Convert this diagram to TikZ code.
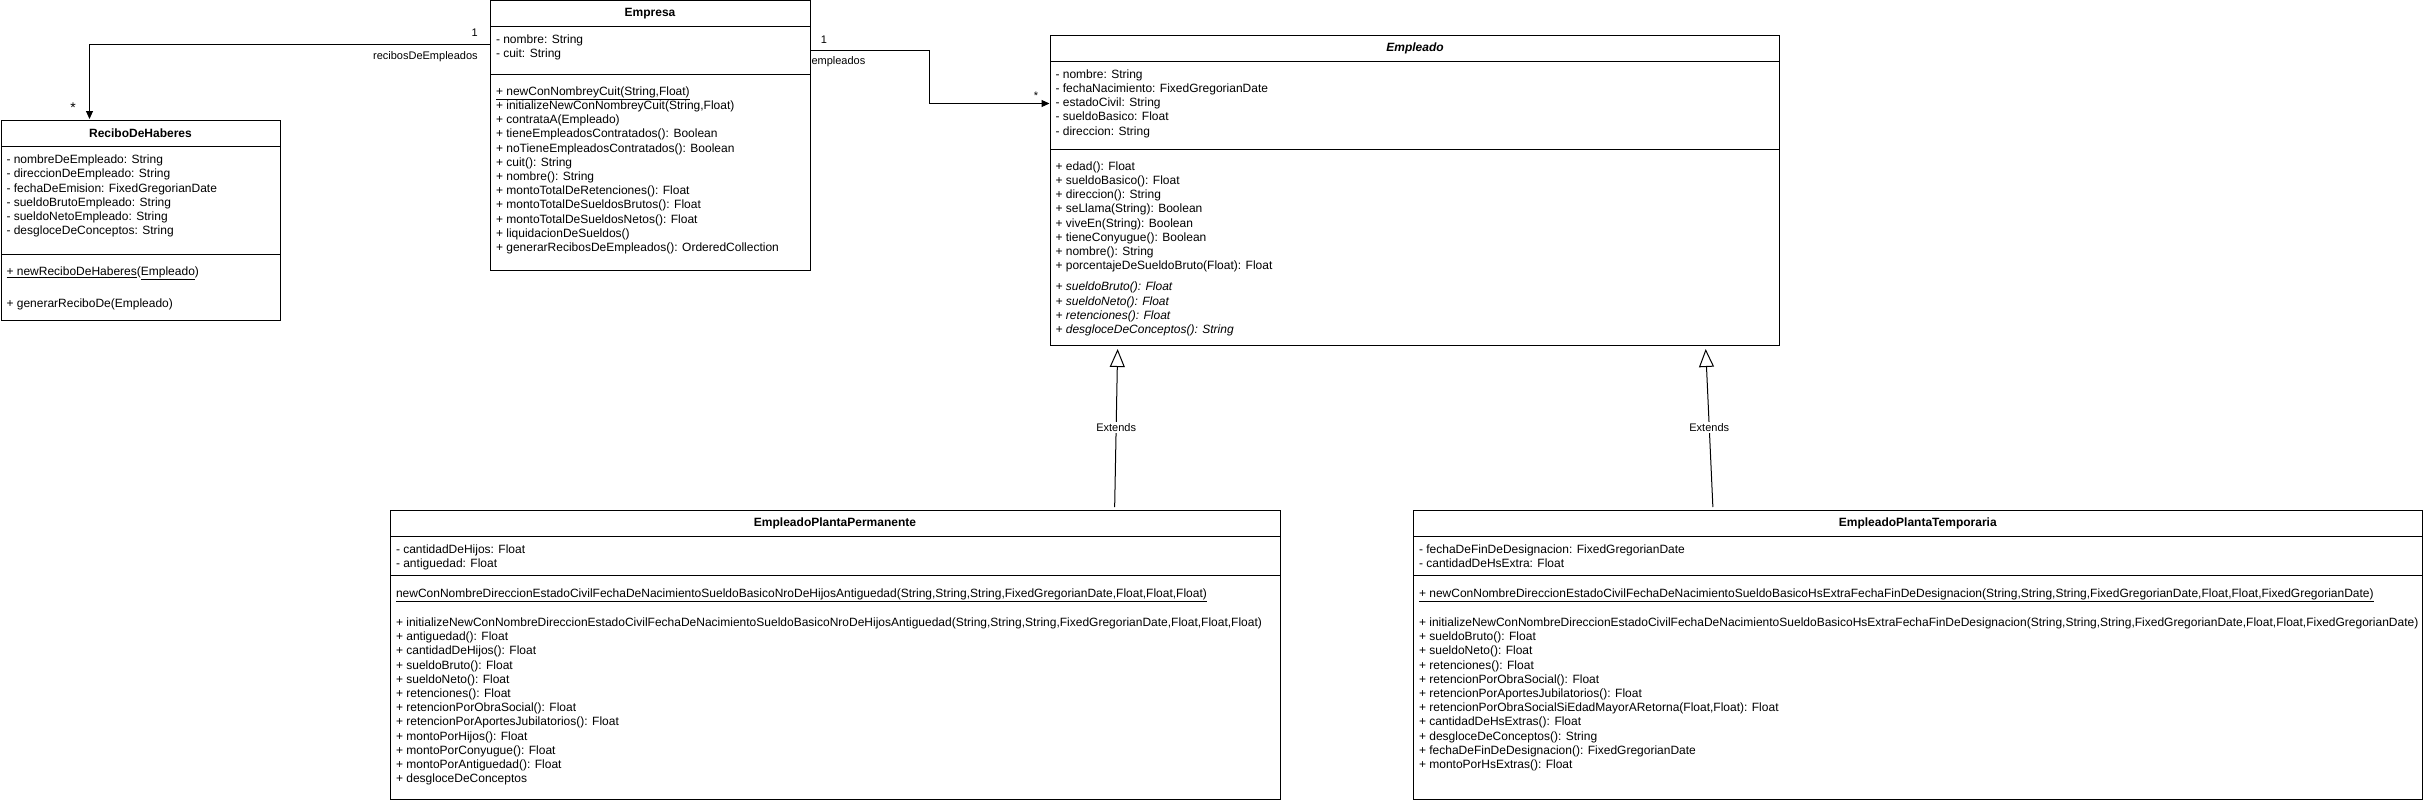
\documentclass[tikz,border=0pt]{standalone}
\usepackage{fontspec}
\setmainfont{Liberation Sans}
\usetikzlibrary{arrows.meta,positioning}

\begin{document}
\begin{tikzpicture}[x=1pt,y=-1pt,
  every node/.style={inner sep=0pt,outer sep=0pt,font=\fontsize{12}{14.2}\selectfont},
  compart/.style={draw,line width=1pt,anchor=north west,minimum width=#1},
  head/.style={compart=#1,minimum height=26pt,font=\fontsize{12}{14.2}\selectfont\bfseries},
  members/.style={align=left},
  assoc/.style={-{Triangle[length=8pt,width=7pt]},line width=1pt,shorten >=1pt},
  extends/.style={-{Triangle[open,length=18pt,width=15pt]},line width=1pt,shorten >=4pt,shorten <=3pt},
  mult/.style={font=\fontsize{11}{13}\selectfont},
  role/.style={font=\fontsize{11}{13}\selectfont}]

    \useasboundingbox (0,0) rectangle (2424,804);

    \node[head=279pt] (recT) at (1,120) {ReciboDeHaberes};
    \node[compart=279pt,minimum height=108pt,below=0pt of recT] (recA) {};
    \node[compart=279pt,minimum height=66pt,below=0pt of recA] (recO) {};
    \node[members,below right=9pt and 5.5pt of recA.north west] (recAtxt)
        {- nombreDeEmpleado: String\\
         - direccionDeEmpleado: String\\
         - fechaDeEmision: FixedGregorianDate\\
         - sueldoBrutoEmpleado: String\\
         - sueldoNetoEmpleado: String\\
         - desgloceDeConceptos: String};
    \node[members,below right=13pt and 5.5pt of recO.north west] (recOtxt)
        {\underline{+ newReciboDeHaberes}(\underline{Empleado})\\[18pt]
         + generarReciboDe(Empleado)};

    \node[head=320pt,minimum height=25.5pt] (empT) at (490,0.5) {Empresa};
    \node[compart=320pt,minimum height=48.5pt,below=0pt of empT] (empA) {};
    \node[compart=320pt,minimum height=195.5pt,below=0pt of empA] (empO) {};
    \node[members,below right=9pt and 6pt of empA.north west] (empAtxt)
        {- nombre: String\\
         - cuit: String};
    \node[members,below right=12pt and 6pt of empO.north west] (empOtxt)
        {\underline{+ newConNombreyCuit(String,Float)}\\
         + initializeNewConNombreyCuit(String,Float)\\
         + contrataA(Empleado)\\
         + tieneEmpleadosContratados(): Boolean\\
         + noTieneEmpleadosContratados(): Boolean\\
         + cuit(): String\\
         + nombre(): String\\
         + montoTotalDeRetenciones(): Float\\
         + montoTotalDeSueldosBrutos(): Float\\
         + montoTotalDeSueldosNetos(): Float\\
         + liquidacionDeSueldos()\\
         + generarRecibosDeEmpleados(): OrderedCollection};

    \node[head=729pt,font=\fontsize{12}{14.2}\selectfont\bfseries\itshape] (emplT) at (1050.5,35.5) {Empleado};
    \node[compart=729pt,minimum height=88pt,below=0pt of emplT] (emplA) {};
    \node[compart=729pt,minimum height=195.5pt,below=0pt of emplA] (emplO) {};
    \node[members,below right=8pt and 5pt of emplA.north west] (emplAtxt)
        {- nombre: String\\
         - fechaNacimiento: FixedGregorianDate\\
         - estadoCivil: String\\
         - sueldoBasico: Float\\
         - direccion: String};
    \node[members,below right=12pt and 5pt of emplO.north west] (emplOtxt)
        {+ edad(): Float\\
         + sueldoBasico(): Float\\
         + direccion(): String\\
         + seLlama(String): Boolean\\
         + viveEn(String): Boolean\\
         + tieneConyugue(): Boolean\\
         + nombre(): String\\
         + porcentajeDeSueldoBruto(Float): Float\\[7pt]
         \itshape + sueldoBruto(): Float\\
         \itshape + sueldoNeto(): Float\\
         \itshape + retenciones(): Float\\
         \itshape + desgloceDeConceptos(): String};

    \node[head=890pt] (permT) at (390,510) {EmpleadoPlantaPermanente};
    \node[compart=890pt,minimum height=39.3pt,below=0pt of permT] (permA) {};
    \node[compart=890pt,minimum height=223.7pt,below=0pt of permA] (permO) {};
    \node[members,below right=8.3pt and 6pt of permA.north west] (permAtxt)
        {- cantidadDeHijos: Float\\
         - antiguedad: Float};
    \node[members,below right=13.7pt and 6pt of permO.north west] (permOtxt)
        {\underline{newConNombreDireccionEstadoCivilFechaDeNacimientoSueldoBasicoNroDeHijosAntiguedad(String,String,String,FixedGregorianDate,Float,Float,Float)}\\[14.5pt]
         + initializeNewConNombreDireccionEstadoCivilFechaDeNacimientoSueldoBasicoNroDeHijosAntiguedad(String,String,String,FixedGregorianDate,Float,Float,Float)\\
         + antiguedad(): Float\\
         + cantidadDeHijos(): Float\\
         + sueldoBruto(): Float\\
         + sueldoNeto(): Float\\
         + retenciones(): Float\\
         + retencionPorObraSocial(): Float\\
         + retencionPorAportesJubilatorios(): Float\\
         + montoPorHijos(): Float\\
         + montoPorConyugue(): Float\\
         + montoPorAntiguedad(): Float\\
         + desgloceDeConceptos};

    \node[head=1009.5pt] (tempT) at (1413,510) {EmpleadoPlantaTemporaria};
    \node[compart=1009.5pt,minimum height=39.3pt,below=0pt of tempT] (tempA) {};
    \node[compart=1009.5pt,minimum height=223.7pt,below=0pt of tempA] (tempO) {};
    \node[members,below right=8.3pt and 6pt of tempA.north west] (tempAtxt)
        {- fechaDeFinDeDesignacion: FixedGregorianDate\\
         - cantidadDeHsExtra: Float};
    \node[members,below right=13.7pt and 6pt of tempO.north west] (tempOtxt)
        {\underline{+ newConNombreDireccionEstadoCivilFechaDeNacimientoSueldoBasicoHsExtraFechaFinDeDesignacion(String,String,String,FixedGregorianDate,Float,Float,FixedGregorianDate)}\\[14.5pt]
         + initializeNewConNombreDireccionEstadoCivilFechaDeNacimientoSueldoBasicoHsExtraFechaFinDeDesignacion(String,String,String,FixedGregorianDate,Float,Float,FixedGregorianDate)\\
         + sueldoBruto(): Float\\
         + sueldoNeto(): Float\\
         + retenciones(): Float\\
         + retencionPorObraSocial(): Float\\
         + retencionPorAportesJubilatorios(): Float\\
         + retencionPorObraSocialSiEdadMayorARetorna(Float,Float): Float\\
         + cantidadDeHsExtras(): Float\\
         + desgloceDeConceptos(): String\\
         + fechaDeFinDeDesignacion(): FixedGregorianDate\\
         + montoPorHsExtras(): Float};

    \draw[assoc] ([yshift=5.6pt]empA.west)
        node[mult,xshift=-15.4pt,yshift=12.2pt]{1}
        node[role,anchor=east,xshift=-12.3pt,yshift=-12.3pt]{recibosDeEmpleados}
        -| ([xshift=-51pt]recT.north)
        node[mult,xshift=-16.5pt,yshift=12pt,font=\fontsize{14}{16}\selectfont]{*};
    \draw[assoc] (empA.east)
        node[mult,xshift=14pt,yshift=10.3pt]{1}
        node[role,anchor=west,xshift=1.5pt,yshift=-11.7pt]{empleados}
        -- ++(119,0) |- ([yshift=2pt]emplA.west)
        node[mult,xshift=-14.5pt,yshift=8pt]{*};
    \draw[extends] ([xshift=279.6pt]permT.north)
        -- node[role,fill=white,inner sep=1pt]{Extends} ([xshift=-297.3pt]emplO.south);
    \draw[extends] ([xshift=-204.75pt]tempT.north)
        -- node[role,fill=white,inner sep=1pt]{Extends} ([xshift=290.5pt]emplO.south);
\end{tikzpicture}
\end{document}
